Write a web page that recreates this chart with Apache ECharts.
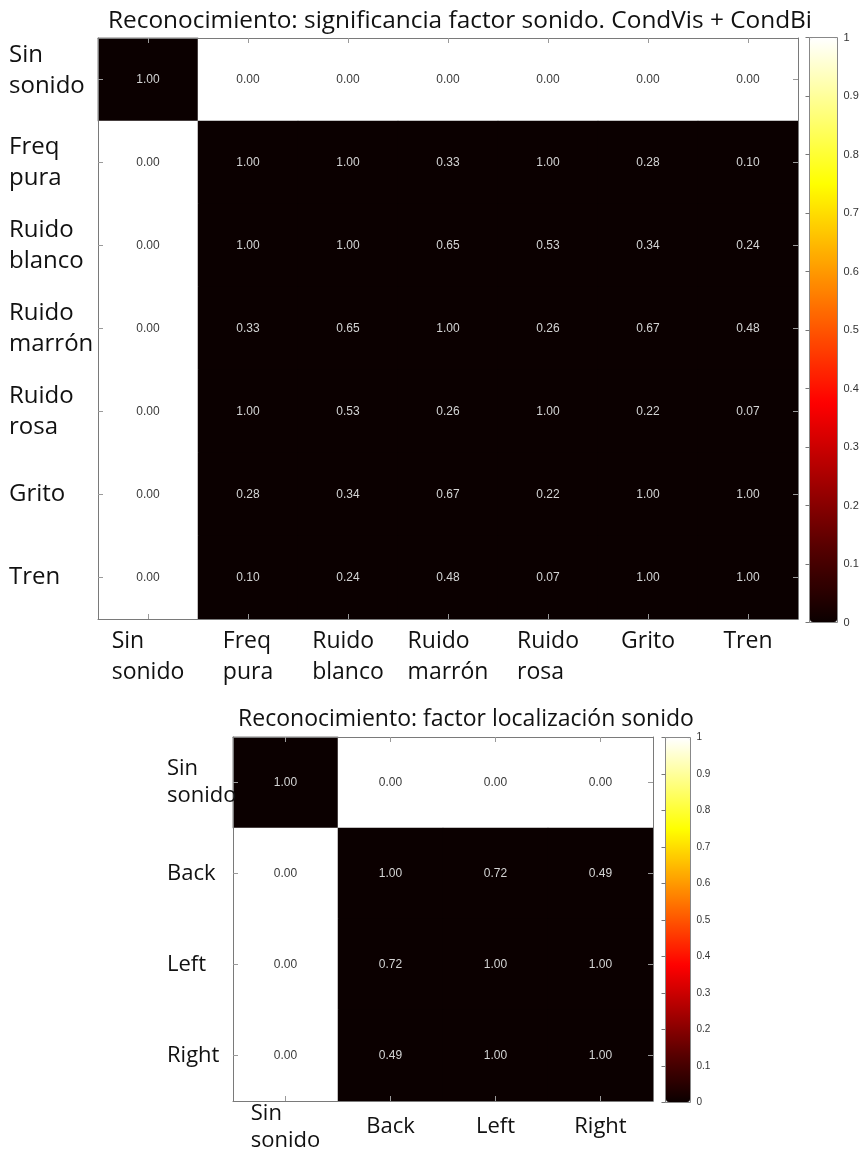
<!DOCTYPE html>
<html>
<head>
<meta charset="utf-8">
<script src="https://cdn.jsdelivr.net/npm/echarts@6/dist/echarts.min.js"></script>
<style>
html,body{margin:0;padding:0;background:#fff;}
#chart{width:861px;height:1151px;}
</style>
</head>
<body>
<div id="chart"></div>
<script>
// ---------- data ----------
const title1 = 'Reconocimiento: significancia factor sonido. CondVis + CondBi';
const title2 = 'Reconocimiento: factor localización sonido';

const labels1 = ['Sin\nsonido', 'Freq\npura', 'Ruido\nblanco', 'Ruido\nmarrón', 'Ruido\nrosa', 'Grito', 'Tren'];
// p-values shown in the cells (rows top->bottom, columns left->right)
const pvals1 = [
  [1.00, 0.00, 0.00, 0.00, 0.00, 0.00, 0.00],
  [0.00, 1.00, 1.00, 0.33, 1.00, 0.28, 0.10],
  [0.00, 1.00, 1.00, 0.65, 0.53, 0.34, 0.24],
  [0.00, 0.33, 0.65, 1.00, 0.26, 0.67, 0.48],
  [0.00, 1.00, 0.53, 0.26, 1.00, 0.22, 0.07],
  [0.00, 0.28, 0.34, 0.67, 0.22, 1.00, 1.00],
  [0.00, 0.10, 0.24, 0.48, 0.07, 1.00, 1.00]
];
// colour value of each cell (significance, 0..1 on the colour bar)
const sig1 = [
  [0, 1, 1, 1, 1, 1, 1],
  [1, 0, 0, 0, 0, 0, 0],
  [1, 0, 0, 0, 0, 0, 0],
  [1, 0, 0, 0, 0, 0, 0],
  [1, 0, 0, 0, 0, 0, 0],
  [1, 0, 0, 0, 0, 0, 0],
  [1, 0, 0, 0, 0, 0, 0]
];

const labels2 = ['Sin\nsonido', 'Back', 'Left', 'Right'];
const pvals2 = [
  [1.00, 0.00, 0.00, 0.00],
  [0.00, 1.00, 0.72, 0.49],
  [0.00, 0.72, 1.00, 1.00],
  [0.00, 0.49, 1.00, 1.00]
];
const sig2 = [
  [0, 1, 1, 1],
  [1, 0, 0, 0],
  [1, 0, 0, 0],
  [1, 0, 0, 0]
];

const colorbarMin = 0;
const colorbarMax = 1;
const colorbarStep = 0.1;
// MATLAB "hot" colour map stops
const hotColors = ['#0b0000', '#550000', '#aa0000', '#ff0000', '#ff5500', '#ffaa00', '#ffff00', '#ffff80', '#ffffff'];

// ---------- helpers ----------
function cells(p, s) {
  const out = [];
  for (let r = 0; r < p.length; r++) {
    for (let c = 0; c < p[r].length; c++) {
      out.push([c, r, s[r][c], p[r][c]]);
    }
  }
  return out;
}
const FONT = 'Open Sans';
const NUMFONT = 'Liberation Sans';
const lineCol = '#7a7a7a';
const tickCol = '#9a9a9a';

function leftLines(v) {
  return v.split('\n').map(s => '{l|' + s + '}').join('\n');
}

function catX(gridIndex, data, opts) {
  return Object.assign({
    type: 'category', gridIndex, data, z: 5,
    axisLine: {show: true, lineStyle: {color: lineCol, width: 1}},
    axisTick: {show: true, inside: true, alignWithLabel: true, length: 5, lineStyle: {color: tickCol}},
    splitLine: {show: false}
  }, opts);
}
function catY(gridIndex, data, opts) {
  return Object.assign({
    type: 'category', gridIndex, data, inverse: true, z: 5,
    axisLine: {show: true, lineStyle: {color: lineCol, width: 1}},
    axisTick: {show: true, inside: true, alignWithLabel: true, length: 5, lineStyle: {color: tickCol}},
    splitLine: {show: false}
  }, opts);
}
function cbY(gridIndex, fontSize) {
  return {
    type: 'value', gridIndex, position: 'right', min: colorbarMin, max: colorbarMax, interval: colorbarStep, z: 6,
    axisLine: {show: false},
    axisTick: {show: true, inside: true, length: 4, lineStyle: {color: '#777'}},
    splitLine: {show: false},
    axisLabel: {show: true, margin: 6, fontFamily: NUMFONT, fontSize, color: '#333'}
  };
}
function cellLabel(fs) {
  return {
    show: true,
    formatter: p => (p.value[2] > 0.5 ? '{d|' : '{w|') + p.value[3].toFixed(2) + '}',
    rich: {
      w: {color: '#d4d4d4', fontFamily: NUMFONT, fontSize: fs},
      d: {color: '#3a3a3a', fontFamily: NUMFONT, fontSize: fs}
    }
  };
}

const chart = echarts.init(document.getElementById('chart'), null, {renderer: 'canvas'});

const G0 = {left: 98, top: 38, width: 700, height: 581};
const G1 = {left: 809.5, top: 37.5, width: 28, height: 585};
const G2 = {left: 233, top: 737, width: 420, height: 364};
const G3 = {left: 665.5, top: 737.5, width: 25, height: 365};

chart.setOption({
  animation: false,
  backgroundColor: '#ffffff',
  title: [
    {text: title1, left: 455, top: 4, textAlign: 'center',
      textStyle: {fontFamily: FONT, fontSize: 24.4, fontWeight: 'normal', color: '#111'}},
    {text: title2, left: 461, top: 703, textAlign: 'center',
      textStyle: {fontFamily: FONT, fontSize: 23, fontWeight: 'normal', color: '#111'}}
  ],
  grid: [
    Object.assign({show: false, outerBoundsMode: 'none', containLabel: false}, G0),
    Object.assign({show: true, borderColor: '#888', borderWidth: 1, backgroundColor: 'transparent', outerBoundsMode: 'none', containLabel: false}, G1),
    Object.assign({show: false, outerBoundsMode: 'none', containLabel: false}, G2),
    Object.assign({show: true, borderColor: '#888', borderWidth: 1, backgroundColor: 'transparent', outerBoundsMode: 'none', containLabel: false}, G3)
  ],
  xAxis: [
    catX(0, labels1, {position: 'bottom', axisLabel: {
      show: true, interval: 0, margin: 7, verticalAlign: 'top', fontFamily: FONT, fontSize: 23, color: '#111', lineHeight: 31,
      formatter: leftLines, rich: {l: {align: 'left', fontFamily: FONT, fontSize: 23, color: '#111', lineHeight: 31}}
    }}),
    catX(0, labels1, {position: 'top', axisLabel: {show: false}}),
    {type: 'value', gridIndex: 1, show: false, min: 0, max: 1},
    catX(2, labels2, {position: 'bottom', axisLabel: {
      show: true, interval: 0, margin: 26, verticalAlign: 'middle', fontFamily: FONT, fontSize: 22, color: '#111', lineHeight: 27,
      formatter: leftLines, rich: {l: {align: 'left', fontFamily: FONT, fontSize: 22, color: '#111', lineHeight: 27}}
    }}),
    catX(2, labels2, {position: 'top', axisLabel: {show: false}}),
    {type: 'value', gridIndex: 3, show: false, min: 0, max: 1}
  ],
  yAxis: [
    catY(0, labels1, {position: 'left', axisLabel: {
      show: true, interval: 0, align: 'left', margin: 89, fontFamily: FONT, fontSize: 24, color: '#111', lineHeight: 31,
      // the first row label sits a little higher in the original figure
      formatter: (v, i) => i === 0 ? v + '\n{g| }' : v,
      rich: {g: {fontSize: 2, lineHeight: 18}}
    }}),
    catY(0, labels1, {position: 'right', axisLabel: {show: false}}),
    cbY(1, 11),
    catY(2, labels2, {position: 'left', axisLabel: {
      show: true, interval: 0, align: 'left', margin: 66, fontFamily: FONT, fontSize: 22, color: '#111', lineHeight: 27
    }}),
    catY(2, labels2, {position: 'right', axisLabel: {show: false}}),
    cbY(3, 10)
  ],
  visualMap: [
    {type: 'continuous', seriesIndex: 0, dimension: 2, min: colorbarMin, max: colorbarMax,
      calculable: false, realtime: false, hoverLink: false, text: null, showLabel: false,
      left: 810, top: 38, itemWidth: 27, itemHeight: 584, padding: 0,
      inRange: {color: hotColors}},
    {type: 'continuous', seriesIndex: 1, dimension: 2, min: colorbarMin, max: colorbarMax,
      calculable: false, realtime: false, hoverLink: false, text: null, showLabel: false,
      left: 666, top: 738, itemWidth: 24, itemHeight: 364, padding: 0,
      inRange: {color: hotColors}}
  ],
  series: [
    {type: 'heatmap', xAxisIndex: 0, yAxisIndex: 0, data: cells(pvals1, sig1),
      label: cellLabel(12), emphasis: {disabled: true}, itemStyle: {borderWidth: 0}},
    {type: 'heatmap', xAxisIndex: 3, yAxisIndex: 3, data: cells(pvals2, sig2),
      label: cellLabel(12), emphasis: {disabled: true}, itemStyle: {borderWidth: 0}}
  ]
});
</script>
</body>
</html>
